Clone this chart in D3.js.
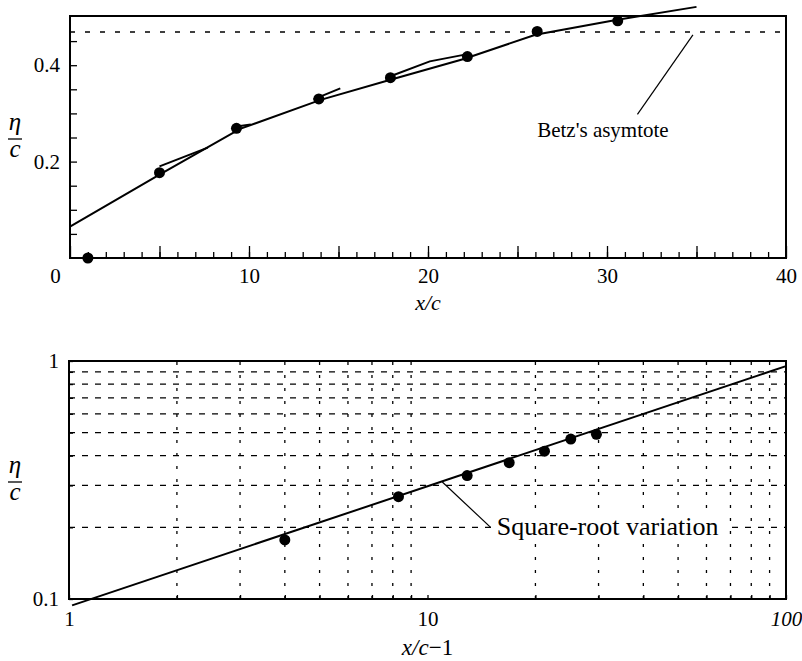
<!DOCTYPE html>
<html>
<head>
<meta charset="utf-8">
<script src="https://cdn.jsdelivr.net/npm/d3@7"></script>
<style>
  body { margin: 0; background: #fff; }
  svg text { font-family: "Liberation Serif", "Times New Roman", serif !important; fill: #000; }
</style>
</head>
<body>
<svg id="chart" width="802" height="661"></svg>
<script>
// measured stations: x/c and wake half-width eta/c
const xc = [1, 5, 9.3, 13.9, 17.9, 22.2, 26.1, 30.6];
const etac = [0, 0.177, 0.269, 0.330, 0.374, 0.418, 0.470, 0.492];

// hand drawn curve through the points (top panel)
const curveX = [0, 5, 9.5, 14, 18, 22, 26, 30.5, 35];
const curveY = [0.065, 0.173, 0.268, 0.328, 0.371, 0.413, 0.463, 0.494, 0.521];

// the short overlapping strokes of the drawing
const strokeX = [[5.0, 7.7], [9.3, 10.1], [13.6, 15.1], [17.9, 20.1, 22.2]];
const strokeY = [[0.19, 0.229], [0.273, 0.277], [0.329, 0.352], [0.377, 0.408, 0.423]];

const betz = 0.469;

// square-root variation (bottom panel, log-log)
const sqrtX = [1.02, 100];
const sqrtY = [0.094, 0.952];

const topXLabels = [0, 10, 20, 30, 40];
const topYLabels = [0.2, 0.4];
const botXLabels = [1, 10, 100];
const botYLabels = [0.1, 1];
const gridX = [2, 3, 4, 5, 6, 7, 8, 9, 20, 30, 40, 50, 60, 70, 80, 90];
const gridY = [0.2, 0.3, 0.4, 0.5, 0.6, 0.7, 0.8, 0.9];

const serif = "'Liberation Serif', 'Times New Roman', serif";
const svg = d3.select("#chart");

// ---------- top panel ----------
const xT = d3.scaleLinear().domain([0, 40]).range([70, 786]);
const yT = d3.scaleLinear().domain([0, 0.5]).range([258, 17]);

svg.append("rect")
  .attr("x", xT(0)).attr("y", yT(0.5) - 1)
  .attr("width", xT(40) - xT(0)).attr("height", yT(0) - yT(0.5) + 1)
  .attr("fill", "none").attr("stroke", "#000").attr("stroke-width", 2);

// minor x ticks
svg.append("g").attr("transform", `translate(0,${yT(0)})`)
  .call(d3.axisBottom(xT).tickValues(d3.range(1, 40)).tickSize(-6).tickFormat(""))
  .call(g => g.select(".domain").remove());

// major x ticks + labels
const gxT = svg.append("g").attr("transform", `translate(0,${yT(0)})`)
  .call(d3.axisBottom(xT).tickValues(d3.range(0, 41, 5)).tickSize(-12).tickPadding(10)
    .tickFormat(d => topXLabels.includes(d) ? d : ""))
  .call(g => g.select(".domain").remove());
gxT.attr("font-family", serif).attr("font-size", 21);
gxT.selectAll(".tick").filter(d => d === 0).select("text").attr("dx", -15);

// y ticks
const gyT = svg.append("g").attr("transform", `translate(${xT(0)},0)`)
  .call(d3.axisLeft(yT).tickValues(d3.range(1, 10).map(i => i * 0.05)).tickSize(-7).tickPadding(10)
    .tickFormat(d => topYLabels.some(v => Math.abs(v - d) < 1e-9) ? d3.format(".1f")(d) : ""))
  .call(g => g.select(".domain").remove());
gyT.attr("font-family", serif).attr("font-size", 21);

svg.selectAll("line").attr("stroke-width", 1.3);

// Betz asymptote
svg.append("line")
  .attr("x1", xT(0)).attr("x2", xT(40)).attr("y1", yT(betz)).attr("y2", yT(betz))
  .attr("stroke", "#000").attr("stroke-width", 1.4).attr("stroke-dasharray", "5,10");

const lineT = d3.line().x(d => xT(d[0])).y(d => yT(d[1]));
svg.append("path")
  .attr("d", lineT(d3.zip(curveX, curveY)))
  .attr("fill", "none").attr("stroke", "#000").attr("stroke-width", 2);
strokeX.forEach((sx, i) => {
  svg.append("path")
    .attr("d", lineT(d3.zip(sx, strokeY[i])))
    .attr("fill", "none").attr("stroke", "#000").attr("stroke-width", 2);
});

svg.append("g").selectAll("circle")
  .data(d3.zip(xc, etac)).join("circle")
  .attr("cx", d => xT(d[0])).attr("cy", d => yT(d[1])).attr("r", 5.5).attr("fill", "#000");

// Betz label
svg.append("line")
  .attr("x1", xT(34.8)).attr("y1", yT(0.463)).attr("x2", xT(31.7)).attr("y2", yT(0.298))
  .attr("stroke", "#000").attr("stroke-width", 1.2);
svg.append("text").attr("x", xT(26.1)).attr("y", yT(0.252))
  .attr("font-family", serif).attr("font-size", 21).text("Betz's asymtote");

// axis titles
svg.append("text").attr("x", xT(20)).attr("y", 310).attr("text-anchor", "middle")
  .attr("font-family", serif).attr("font-size", 22).attr("font-style", "italic").text("x/c");

function etaLabel(cx, barY) {
  svg.append("text").attr("x", cx).attr("y", barY - 9).attr("text-anchor", "middle")
    .attr("font-family", serif).attr("font-size", 25).attr("font-style", "italic").text("η");
  svg.append("line").attr("x1", cx - 7).attr("x2", cx + 7).attr("y1", barY).attr("y2", barY)
    .attr("stroke", "#000").attr("stroke-width", 1.3);
  svg.append("text").attr("x", cx).attr("y", barY + 18).attr("text-anchor", "middle")
    .attr("font-family", serif).attr("font-size", 25).attr("font-style", "italic").text("c");
}
etaLabel(15, 139);

// ---------- bottom panel ----------
const xB = d3.scaleLog().domain([1, 100]).range([69, 786]);
const yB = d3.scaleLog().domain([0.1, 1]).range([599, 361]);

const gB = svg.append("g");
gB.selectAll("line.gx").data(gridX).join("line").attr("class", "gx")
  .attr("x1", d => xB(d)).attr("x2", d => xB(d)).attr("y1", yB(0.1)).attr("y2", yB(1))
  .attr("stroke", "#000").attr("stroke-width", 1.3).attr("stroke-dasharray", "3,10");
gB.selectAll("line.gy").data(gridY).join("line").attr("class", "gy")
  .attr("x1", xB(1)).attr("x2", xB(100)).attr("y1", d => yB(d)).attr("y2", d => yB(d))
  .attr("stroke", "#000").attr("stroke-width", 1.3).attr("stroke-dasharray", "6,7");

svg.append("rect")
  .attr("x", xB(1)).attr("y", yB(1))
  .attr("width", xB(100) - xB(1)).attr("height", yB(0.1) - yB(1))
  .attr("fill", "none").attr("stroke", "#000").attr("stroke-width", 2);

const gxB = svg.append("g").attr("transform", `translate(0,${yB(0.1)})`)
  .call(d3.axisBottom(xB).tickValues(botXLabels.concat(gridX)).tickSize(-4).tickPadding(12)
    .tickFormat(d => botXLabels.includes(d) ? d : ""))
  .call(g => g.select(".domain").remove());
gxB.attr("font-family", serif).attr("font-size", 21);
gxB.selectAll(".tick").filter(d => d === 100).select("text").attr("font-style", "italic");

const gyB = svg.append("g").attr("transform", `translate(${xB(1)},0)`)
  .call(d3.axisLeft(yB).tickValues(botYLabels.concat(gridY)).tickSize(-4).tickPadding(10)
    .tickFormat(d => botYLabels.includes(d) ? d : ""))
  .call(g => g.select(".domain").remove());
gyB.attr("font-family", serif).attr("font-size", 21);
gxB.selectAll("line").attr("stroke-width", 1.3);
gyB.selectAll("line").attr("stroke-width", 1.3);

const lineB = d3.line().x(d => xB(d[0])).y(d => yB(d[1]));
svg.append("path")
  .attr("d", lineB(d3.zip(sqrtX, sqrtY)))
  .attr("fill", "none").attr("stroke", "#000").attr("stroke-width", 2);

svg.append("g").selectAll("circle")
  .data(d3.zip(xc, etac).filter(d => d[0] > 1)).join("circle")
  .attr("cx", d => xB(d[0] - 1)).attr("cy", d => yB(d[1])).attr("r", 5.5).attr("fill", "#000");

// square-root label
svg.append("line")
  .attr("x1", xB(11)).attr("y1", yB(0.31)).attr("x2", xB(15)).attr("y2", yB(0.2))
  .attr("stroke", "#000").attr("stroke-width", 1.2);
svg.append("rect").attr("x", xB(15.6) - 2).attr("y", yB(0.186) - 22)
  .attr("width", 233).attr("height", 28).attr("fill", "#fff");
svg.append("text").attr("x", xB(15.6)).attr("y", yB(0.186))
  .attr("font-family", serif).attr("font-size", 26).text("Square-root variation");

const xl = svg.append("text").attr("x", xB(10)).attr("y", 655).attr("text-anchor", "middle")
  .attr("font-family", serif).attr("font-size", 23);
xl.append("tspan").attr("font-style", "italic").text("x/c");
xl.append("tspan").text("−1");

etaLabel(15, 482);
</script>
</body>
</html>
